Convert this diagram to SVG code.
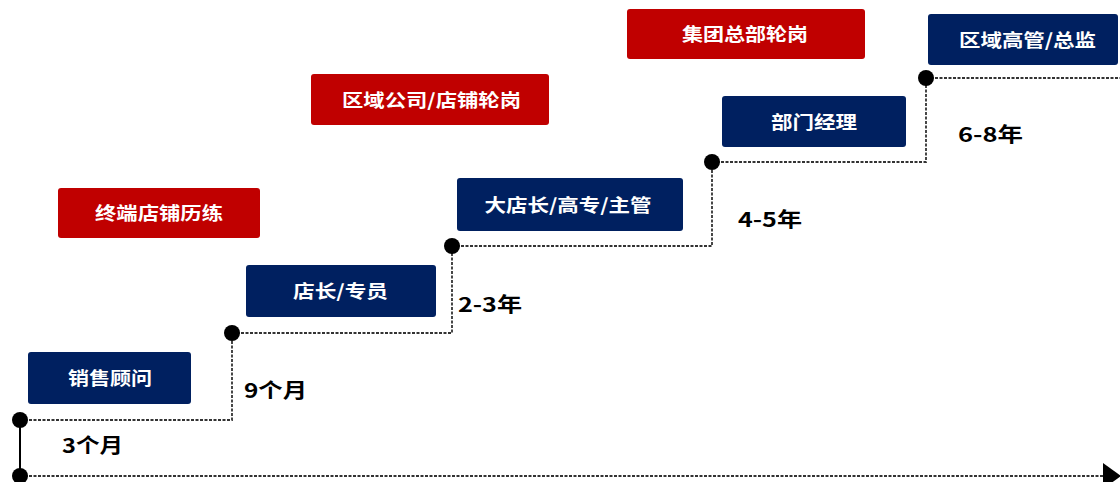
<svg xmlns="http://www.w3.org/2000/svg" width="1120" height="482" viewBox="0 0 1120 482">
<defs>
<style>
.blue{fill:#002060;}
.red{fill:#C00000;}
.bt{fill:#ffffff;font-family:"Noto Sans CJK SC","Noto Sans",sans-serif;font-weight:bold;font-size:18px;text-anchor:middle;}
.lb{fill:#000000;font-family:"Noto Sans CJK SC","Noto Sans",sans-serif;font-weight:bold;font-size:20px;}
.dl{fill:none;stroke:#333;stroke-width:1.8;stroke-dasharray:3 1.5;}
.dot{fill:#000;}
</style>
</defs>
<rect width="1120" height="482" fill="#ffffff"/>
<g id="connectors">
<line x1="20" y1="476" x2="1104" y2="476" class="dl"/>
<polygon points="1103,463 1121,476 1103,489" fill="#000"/>
<line x1="20" y1="420" x2="20" y2="476" stroke="#000" stroke-width="2"/>
<polyline points="20,420 232,420 232,333" class="dl"/>
<polyline points="232,333 452,333 452,246" class="dl"/>
<polyline points="452,246 712,246 712,162" class="dl"/>
<polyline points="712,162 926,162 926,78" class="dl"/>
<polyline points="926,78 1120,78" class="dl"/>
<circle cx="20" cy="420" r="8" class="dot"/>
<circle cx="20" cy="476" r="8" class="dot"/>
<circle cx="232" cy="333" r="8" class="dot"/>
<circle cx="452" cy="246" r="8" class="dot"/>
<circle cx="712" cy="162" r="8" class="dot"/>
<circle cx="926" cy="78" r="8" class="dot"/>
</g>
<g id="n-xsgw"><rect x="28" y="352" width="163" height="52" rx="3" class="blue"/><text x="110" y="385" class="bt" textLength="84" lengthAdjust="spacingAndGlyphs">销售顾问</text></g>
<g id="n-dzzy"><rect x="246" y="265" width="190" height="52" rx="3" class="blue"/><text x="340.5" y="298" class="bt" textLength="95" lengthAdjust="spacingAndGlyphs">店长/专员</text></g>
<g id="n-ddz"><rect x="457" y="178" width="226" height="53" rx="3" class="blue"/><text x="568" y="211.5" class="bt" textLength="167" lengthAdjust="spacingAndGlyphs">大店长/高专/主管</text></g>
<g id="n-bmjl"><rect x="722" y="96" width="184" height="51" rx="3" class="blue"/><text x="814" y="128.5" class="bt" textLength="86" lengthAdjust="spacingAndGlyphs">部门经理</text></g>
<g id="n-qygg"><rect x="928" y="14" width="190" height="51" rx="3" class="blue"/><text x="1027.5" y="46.5" class="bt" textLength="137" lengthAdjust="spacingAndGlyphs">区域高管/总监</text></g>
<g id="r-zddp"><rect x="58" y="188" width="202" height="50" rx="3" class="red"/><text x="159" y="220" class="bt" textLength="128" lengthAdjust="spacingAndGlyphs">终端店铺历练</text></g>
<g id="r-qygs"><rect x="311" y="74" width="238" height="51" rx="3" class="red"/><text x="431.5" y="106.5" class="bt" textLength="179" lengthAdjust="spacingAndGlyphs">区域公司/店铺轮岗</text></g>
<g id="r-jtzb"><rect x="627" y="9" width="238" height="50" rx="3" class="red"/><text x="745" y="41" class="bt" textLength="126" lengthAdjust="spacingAndGlyphs">集团总部轮岗</text></g>
<g id="labels">
<text x="62" y="453" class="lb" textLength="61" lengthAdjust="spacingAndGlyphs">3个月</text>
<text x="244" y="398" class="lb" textLength="63" lengthAdjust="spacingAndGlyphs">9个月</text>
<text x="458" y="312" class="lb" textLength="64" lengthAdjust="spacingAndGlyphs">2-3年</text>
<text x="738" y="227" class="lb" textLength="64" lengthAdjust="spacingAndGlyphs">4-5年</text>
<text x="958" y="142" class="lb" textLength="65" lengthAdjust="spacingAndGlyphs">6-8年</text>
</g>
</svg>
